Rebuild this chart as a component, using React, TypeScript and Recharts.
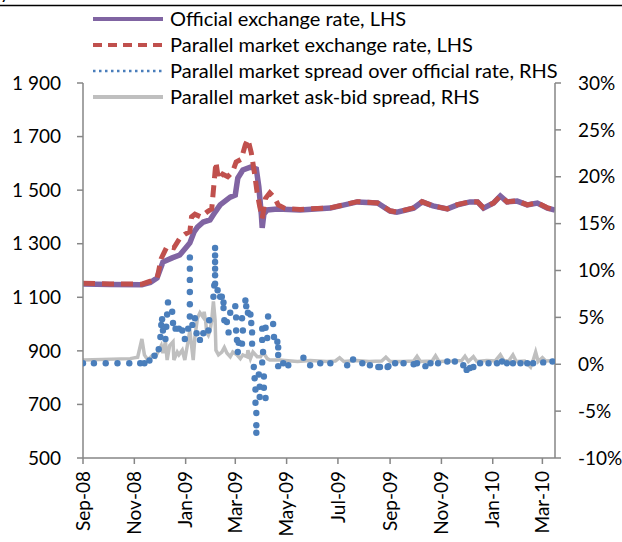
import { ComposedChart, Line, XAxis, YAxis } from 'recharts';

// x values are days counted from 1 Sep 2008
const monthTicks = [0, 61, 122, 181, 242, 303, 365, 426, 487, 546];
const monthLabels = ['Sep-08', 'Nov-08', 'Jan-09', 'Mar-09', 'May-09', 'Jul-09', 'Sep-09', 'Nov-09', 'Jan-10', 'Mar-10'];
const leftTicks = [500, 700, 900, 1100, 1300, 1500, 1700, 1900];
const rightTicks = [-10, -5, 0, 5, 10, 15, 20, 25, 30];

// Official exchange rate, LHS
const officialRate = [
  [0, 1150], [32, 1148], [70, 1147], [80, 1155], [88, 1172], [95, 1232], [106, 1247], [115, 1258],
  [122, 1284], [127, 1303], [132, 1344], [136, 1362], [143, 1381], [151, 1389], [157, 1418], [163, 1445],
  [175, 1474], [181, 1482], [184, 1545], [190, 1575], [199, 1586], [206, 1579], [209, 1512], [212, 1407],
  [213, 1359], [215, 1411], [219, 1426], [231, 1430], [258, 1426], [294, 1433], [326, 1456], [350, 1452],
  [365, 1422], [373, 1418], [393, 1433], [403, 1456], [416, 1441], [433, 1430], [445, 1445], [460, 1456],
  [469, 1456], [476, 1433], [488, 1452], [496, 1478], [504, 1456], [516, 1459], [528, 1445], [540, 1452],
  [552, 1433], [561, 1426],
];

// Parallel market exchange rate, LHS
const parallelRate = [
  [0, 1152], [32, 1150], [70, 1149], [80, 1160], [88, 1170], [90, 1200], [93, 1245], [100, 1290],
  [108, 1285], [115, 1320], [121, 1335], [127, 1345], [129, 1400], [133, 1410], [140, 1400], [148, 1420],
  [153, 1430], [155, 1500], [158, 1605], [161, 1540], [166, 1560], [172, 1550], [178, 1570], [182, 1605],
  [188, 1615], [193, 1670], [196, 1690], [200, 1640], [204, 1560], [207, 1490], [210, 1440], [213, 1395],
  [217, 1470], [222, 1490], [228, 1470], [232, 1445], [240, 1432], [258, 1428], [294, 1434], [326, 1457],
  [350, 1452], [365, 1423], [373, 1418], [393, 1434], [403, 1457], [416, 1441], [433, 1430], [445, 1446],
  [460, 1457], [469, 1456], [476, 1434], [488, 1452], [496, 1479], [504, 1456], [516, 1460], [528, 1445],
  [540, 1453], [552, 1434], [561, 1426],
];

// Parallel market spread over official rate, RHS (%)
const parallelSpread = [
  [0, 0.1], [13, 0.1], [27, 0.1], [41, 0.1], [55, 0.1], [68, 0.1], [73, 0.1], [79, 0.4], [85, 0.9],
  [90, 1.6], [92, 2.9], [93, 4.2], [94, 4.8], [95, 3.6], [98, 2.7], [99, 4.0], [100, 5.3], [101, 6.6],
  [106, 5.6], [107, 4.4], [110, 3.8], [114, 3.8], [118, 3.6], [121, 2.7], [125, 3.8],
  [127, 5.1], [127, 6.4], [127, 7.7], [127, 9.0], [127, 10.2], [127, 11.4],
  [130, 4.2], [133, 4.9], [135, 3.3], [139, 2.6], [143, 3.3], [149, 3.6], [150, 4.7],
  [155, 7.2], [156, 8.4], [157, 8.6], [157, 9.5], [157, 10.2], [157, 10.9], [157, 11.6], [157, 12.4],
  [160, 7.9], [163, 7.2], [165, 7.2], [167, 6.6], [167, 6.0], [168, 4.7], [171, 4.5], [173, 3.4],
  [175, 5.5], [181, 6.2], [182, 5.0], [182, 3.6], [183, 2.6], [184, 1.3], [185, 2.3], [189, 2.2],
  [189, 4.9], [190, 3.6], [193, 6.8], [194, 6.2], [196, 5.5], [199, 5.3], [200, 4.4], [201, 3.4], [201, 2.2],
  [203, -0.3], [204, -1.5], [205, -2.7], [205, -4.1], [206, -5.2], [206, -6.5], [206, -7.3],
  [209, -1.1], [210, -2.4], [210, -3.5], [213, 0.2], [214, 1.3], [213, 2.6], [213, 3.8], [217, 3.9],
  [219, 2.8], [215, -1.3], [215, -2.5], [217, -3.6], [220, 5.1], [226, 4.3], [227, 2.9], [231, 2.4],
  [232, 1.8], [232, 1.0], [232, -0.2],
  [238, 0.1], [244, -0.1], [262, 0.7], [270, -0.1], [282, 0.1], [294, 0.1], [314, -0.1], [321, 0.5],
  [332, 0.1], [341, -0.1], [351, -0.3], [353, -0.3], [362, -0.3], [363, -0.2], [371, 0.1], [381, 0.1],
  [393, 0.0], [397, 0.1], [407, -0.2], [413, 0.1], [422, 0.1], [433, 0.3], [442, 0.3], [452, -0.1],
  [456, -0.6], [460, -0.4], [464, -0.3], [472, 0.1], [482, 0.1], [492, 0.1], [498, 0.3], [504, 0.1],
  [511, 0.1], [520, 0.1], [528, 0.1], [535, 0.1], [547, 0.2], [558, 0.3],
];

// Parallel market ask-bid spread, RHS (%)
const askBidSpread = [
  [0, 0.45], [56, 0.6], [65, 0.75], [70, 2.7], [73, 1.0], [77, 0.45], [82, 0.9], [86, 0.75], [89, 1.3],
  [93, 2.0], [95, 1.2], [98, 2.4], [100, 0.45], [103, 2.0], [107, 2.4], [108, 0.45], [112, 1.3], [114, 1.0],
  [118, 1.5], [121, 0.45], [124, 2.0], [127, 3.6], [131, 0.45], [133, 2.9], [136, 4.9], [139, 5.5],
  [143, 5.0], [144, 5.6], [146, 4.4], [147, 3.4], [149, 3.1], [151, 3.6], [153, 4.7], [155, 6.7],
  [157, 4.7], [158, 1.5], [161, 1.0], [165, 1.3], [168, 1.8], [171, 1.2], [175, 0.8], [178, 1.3],
  [183, 1.0], [187, 0.6], [190, 1.0], [195, 0.8], [196, 1.5], [199, 0.6], [202, 1.3], [207, 0.8],
  [211, 0.8], [214, 1.3], [219, 0.6], [222, 0.45], [234, 0.45], [240, 0.4], [255, 0.3], [270, 0.4],
  [290, 0.3], [300, 0.35], [305, 0.7], [310, 0.3], [325, 0.4], [340, 0.3], [355, 0.35], [360, 0.75],
  [365, 0.3], [380, 0.3], [393, 0.35], [397, 0.85], [401, 0.3], [415, 0.35], [419, 0.9], [423, 0.3],
  [440, 0.35], [450, 0.4], [454, 0.85], [458, 0.3], [464, 0.8], [468, 0.3], [480, 0.4], [490, 0.35],
  [496, 1.0], [500, 0.4], [506, 0.35], [511, 1.0], [515, 0.3], [525, 0.35], [532, -0.3], [535, 0.4],
  [538, 1.3], [541, 0.3], [546, 0.7], [550, 0.35], [561, 0.4],
];

const toPoints = (rows) => rows.map(([day, v]) => ({ day, v }));

const FONT = 'Lato, "Liberation Sans", sans-serif';
const FONT_SIZE = 19;
const LEGEND_FONT_SIZE = 20;
const AXIS = '#868686';

const C_OFFICIAL = '#8064A2';
const C_PARALLEL = '#C0504D';
const C_SPREAD = '#4A7EBB';
const C_ASKBID = '#BFBFBF';

const fmtThousands = (v) => String(v).replace(/\B(?=(\d{3})+(?!\d))/g, ' ');

const MonthTick = ({ x, y, payload }) => {
  const i = monthTicks.indexOf(payload.value);
  return (
    <text x={x} y={y} dy="0.35em" transform={`rotate(-90 ${x} ${y})`} textAnchor="end"
      fontFamily={FONT} fontSize={FONT_SIZE} fill="#000">
      {monthLabels[i]}
    </text>
  );
};

const legendItems = [
  { label: 'Official exchange rate, LHS', color: C_OFFICIAL, width: 4, dash: undefined },
  { label: 'Parallel market exchange rate, LHS', color: C_PARALLEL, width: 4, dash: '9 6' },
  { label: 'Parallel market spread over official rate, RHS', color: C_SPREAD, width: 2.5, dash: '2.5 3.5' },
  { label: 'Parallel market ask-bid spread, RHS', color: C_ASKBID, width: 4, dash: undefined },
];

const LegendOverlay = () => (
  <svg width={622} height={110} style={{ position: 'absolute', left: 0, top: 0, pointerEvents: 'none' }}>
    <text x={0} y={-1} fontFamily={FONT} fontSize={FONT_SIZE} fill="#000">y</text>
    <line x1={0} x2={622} y1={5.5} y2={5.5} stroke="#000" strokeWidth={1.5} />
    {legendItems.map((item, i) => {
      const cy = 19 + i * 26;
      return (
        <g key={i}>
          <line x1={93} x2={163} y1={cy} y2={cy} stroke={item.color} strokeWidth={item.width} strokeDasharray={item.dash} />
          <text x={170} y={cy} dy="0.35em" fontFamily={FONT} fontSize={LEGEND_FONT_SIZE} fill="#000">{item.label}</text>
        </g>
      );
    })}
  </svg>
);

export default function App() {
  const tickStyle = { fontFamily: FONT, fontSize: FONT_SIZE, fill: '#000' };
  return (
    <div style={{ position: 'absolute', left: 0, top: 0, width: 622, height: 542, background: '#fff', overflow: 'hidden' }}>
      <ComposedChart width={622} height={542} margin={{ top: 83, right: 0, bottom: 0, left: 0 }}>
        <XAxis dataKey="day" type="number" domain={[0, 561]} ticks={monthTicks} interval={0} height={84}
          allowDataOverflow tick={<MonthTick />} tickSize={6} tickMargin={7}
          axisLine={{ stroke: AXIS, strokeWidth: 1.5 }} tickLine={{ stroke: AXIS, strokeWidth: 1.5 }} />
        <YAxis yAxisId="left" type="number" domain={[500, 1900]} ticks={leftTicks} interval={0} width={83}
          tickFormatter={fmtThousands} tick={tickStyle} tickSize={6} tickMargin={16}
          axisLine={{ stroke: AXIS, strokeWidth: 1.5 }} tickLine={{ stroke: AXIS, strokeWidth: 1.5 }} />
        <YAxis yAxisId="right" orientation="right" type="number" domain={[-10, 30]} ticks={rightTicks} interval={0}
          width={67} tickFormatter={(v) => `${v}%`} tick={{ ...tickStyle, textAnchor: 'start' }} tickSize={6} tickMargin={17}
          axisLine={{ stroke: AXIS, strokeWidth: 1.5 }} tickLine={{ stroke: AXIS, strokeWidth: 1.5 }} />
        <Line yAxisId="left" data={toPoints(officialRate)} dataKey="v" type="linear" stroke={C_OFFICIAL}
          strokeWidth={5.5} dot={false} isAnimationActive={false} />
        <Line yAxisId="left" data={toPoints(parallelRate)} dataKey="v" type="linear" stroke={C_PARALLEL}
          strokeWidth={5} strokeDasharray="12 7" dot={false} isAnimationActive={false} />
        <Line yAxisId="right" data={toPoints(parallelSpread)} dataKey="v" type="linear" stroke="none"
          dot={{ r: 3.2, fill: C_SPREAD, stroke: 'none' }} activeDot={false} isAnimationActive={false} />
        <Line yAxisId="right" data={toPoints(askBidSpread)} dataKey="v" type="linear" stroke={C_ASKBID}
          strokeWidth={3.5} dot={false} isAnimationActive={false} />
      </ComposedChart>
      <LegendOverlay />
    </div>
  );
}
